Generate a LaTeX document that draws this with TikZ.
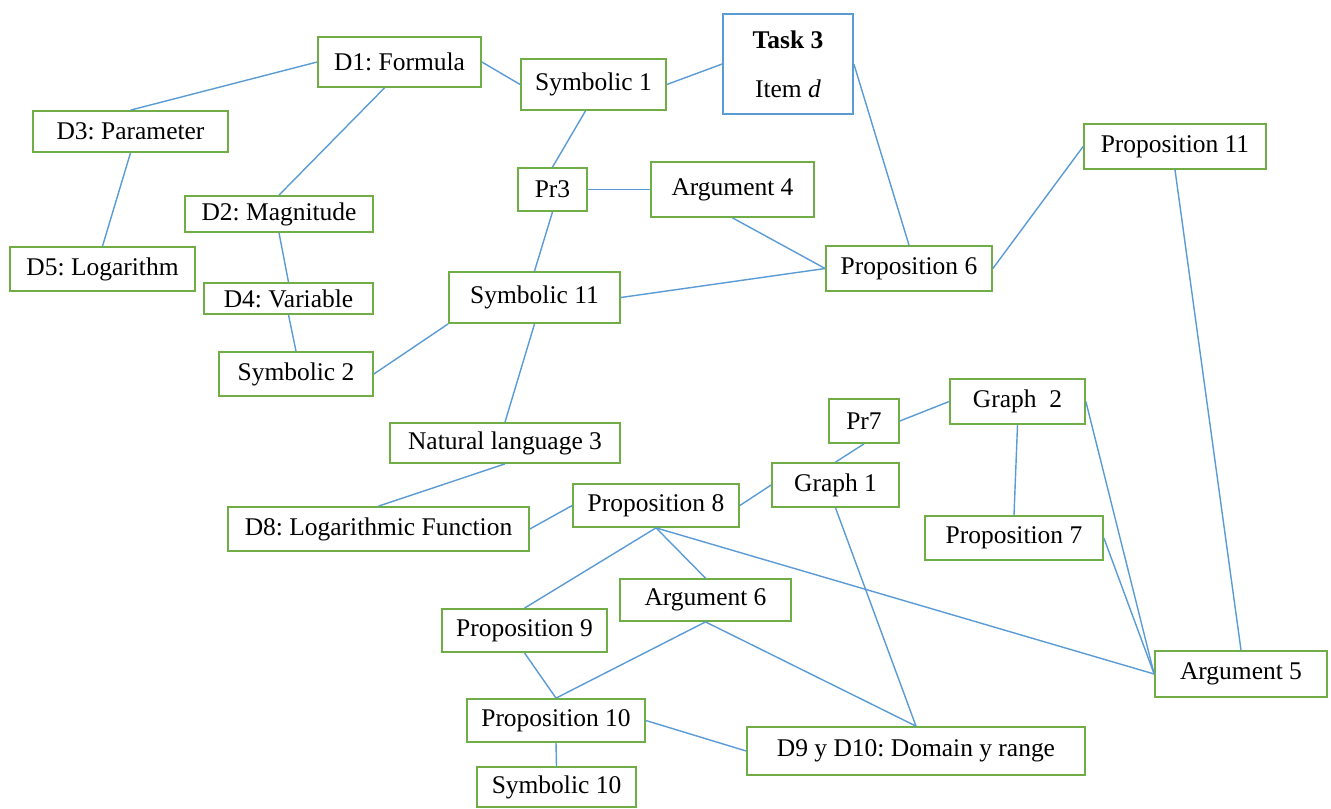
\documentclass[tikz,border=0pt]{standalone}
\usepackage{fontspec}
\setmainfont{Liberation Serif}
\frenchspacing
\definecolor{boxgreen}{RGB}{112,173,71}
\definecolor{lineblue}{RGB}{91,155,213}
\tikzset{
    box/.style={draw=boxgreen,line width=1pt,fill=white,inner sep=0pt,font=\fontsize{14.5}{17}\selectfont},
    link/.style={lineblue,line width=0.8pt}
}

\begin{document}
\begin{tikzpicture}[x=0.02cm,y=-0.02cm]
            \useasboundingbox (0,0) rectangle (1331,808);

            % task box
            \node[box,draw=lineblue,align=center,minimum width=2.6cm,minimum height=2cm] (task) at (788,64) {\textbf{Task 3}\\[11pt]Item \textit{d}};

            % definitions
            \node[box,minimum width=3.26cm,minimum height=1cm] (d1) at (399.5,62) {D1: Formula};
            \node[box,minimum width=3.9cm,minimum height=0.82cm] (d3) at (130.5,131.5) {D3: Parameter};
            \node[box,minimum width=3.76cm,minimum height=0.72cm] (d2) at (279,214) {D2: Magnitude};
            \node[box,minimum width=3.7cm,minimum height=0.88cm] (d5) at (102.5,269) {D5: Logarithm};
            \node[box,minimum width=3.38cm,minimum height=0.62cm] (d4) at (288.5,298.5) {D4: Variable};
            \node[box,minimum width=6.02cm,minimum height=0.88cm] (d8) at (378.5,529) {D8: Logarithmic Function};
            \node[box,minimum width=6.76cm,minimum height=0.96cm] (d9) at (916,751) {D9 y D10: Domain y range};

            % registers
            \node[box,minimum width=2.9cm,minimum height=1.02cm] (sym1) at (593.5,84.5) {Symbolic 1};
            \node[box,minimum width=3.08cm,minimum height=0.88cm] (sym2) at (296,374) {Symbolic 2};
            \node[box,minimum width=3.42cm,minimum height=1.02cm] (sym11) at (534.5,297.5) {Symbolic 11};
            \node[box,minimum width=3.18cm,minimum height=0.8cm] (sym10) at (556.5,787) {Symbolic 10};
            \node[box,minimum width=4.6cm,minimum height=0.8cm] (nat3) at (505,443) {Natural language 3};
            \node[box,minimum width=2.54cm,minimum height=0.88cm] (gr1) at (835.5,485) {Graph 1};
            \node[box,minimum width=2.7cm,minimum height=0.9cm] (gr2) at (1017.5,401.5) {Graph\ \ 2};

            % propositions and arguments
            \node[box,minimum width=1.38cm,minimum height=0.86cm] (pr3) at (552.5,189.5) {Pr3};
            \node[box,minimum width=1.4cm,minimum height=0.88cm] (pr7) at (864,421) {Pr7};
            \node[box,minimum width=3.26cm,minimum height=1.1cm] (arg4) at (732.5,189.5) {Argument 4};
            \node[box,minimum width=3.44cm,minimum height=0.92cm] (arg5) at (1241,674) {Argument 5};
            \node[box,minimum width=3.42cm,minimum height=0.84cm] (arg6) at (705.5,600) {Argument 6};
            \node[box,minimum width=3.32cm,minimum height=0.9cm] (prop6) at (909,268.5) {Proposition 6};
            \node[box,minimum width=3.56cm,minimum height=0.88cm] (prop7) at (1014,538) {Proposition 7};
            \node[box,minimum width=3.32cm,minimum height=0.86cm] (prop8) at (656,505.5) {Proposition 8};
            \node[box,minimum width=3.3cm,minimum height=0.86cm] (prop9) at (524.5,630.5) {Proposition 9};
            \node[box,minimum width=3.56cm,minimum height=0.86cm] (prop10) at (556,720.5) {Proposition 10};
            \node[box,minimum width=3.64cm,minimum height=0.9cm] (prop11) at (1175,146.5) {Proposition 11};

            % connectors
            \draw[link] (d1.west) -- (d3.north);
            \draw[link] ([xshift=-3mm]d1.south) -- (d2.north);
            \draw[link] (d1.east) -- (sym1.west);
            \draw[link] (sym1.east) -- (task.west);
            \draw[link] ([xshift=-1.6mm]sym1.south) -- (pr3.north);
            \draw[link] (pr3.east) -- (arg4.west);
            \draw[link] (pr3.south) -- (sym11.north);
            \draw[link] (d3.south) -- (d5.north);
            \draw[link] (d2.south) -- (d4.north);
            \draw[link] (d4.south) -- (sym2.north);
            \draw[link] (sym2.east) -- (sym11.south west);
            \draw[link] (sym11.east) -- (prop6.west);
            \draw[link] (sym11.south) -- (nat3.north);
            \draw[link] (task.east) -- (prop6.north);
            \draw[link] (arg4.south) -- (prop6.west);
            \draw[link] (prop6.east) -- (prop11.west);
            \draw[link] (prop11.south) -- (arg5.north);
            \draw[link] (nat3.south) -- (d8.north);
            \draw[link] (d8.east) -- (prop8.west);
            \draw[link] (prop8.east) -- (gr1.west);
            \draw[link] (gr1.north) -- (pr7.south);
            \draw[link] (pr7.east) -- (gr2.west);
            \draw[link] (gr2.south) -- (prop7.north);
            \draw[link] (gr2.east) -- (arg5.west);
            \draw[link] (prop7.east) -- (arg5.west);
            \draw[link] (prop8.south) -- (arg5.west);
            \draw[link] (prop8.south) -- (arg6.north);
            \draw[link] (prop8.south) -- (prop9.north);
            \draw[link] (gr1.south) -- (d9.north);
            \draw[link] (arg6.south) -- (d9.north);
            \draw[link] (arg6.south) -- (prop10.north);
            \draw[link] (prop9.south) -- (prop10.north);
            \draw[link] (prop10.east) -- (d9.west);
            \draw[link] (prop10.south) -- (sym10.north);
    \end{tikzpicture}
\end{document}
